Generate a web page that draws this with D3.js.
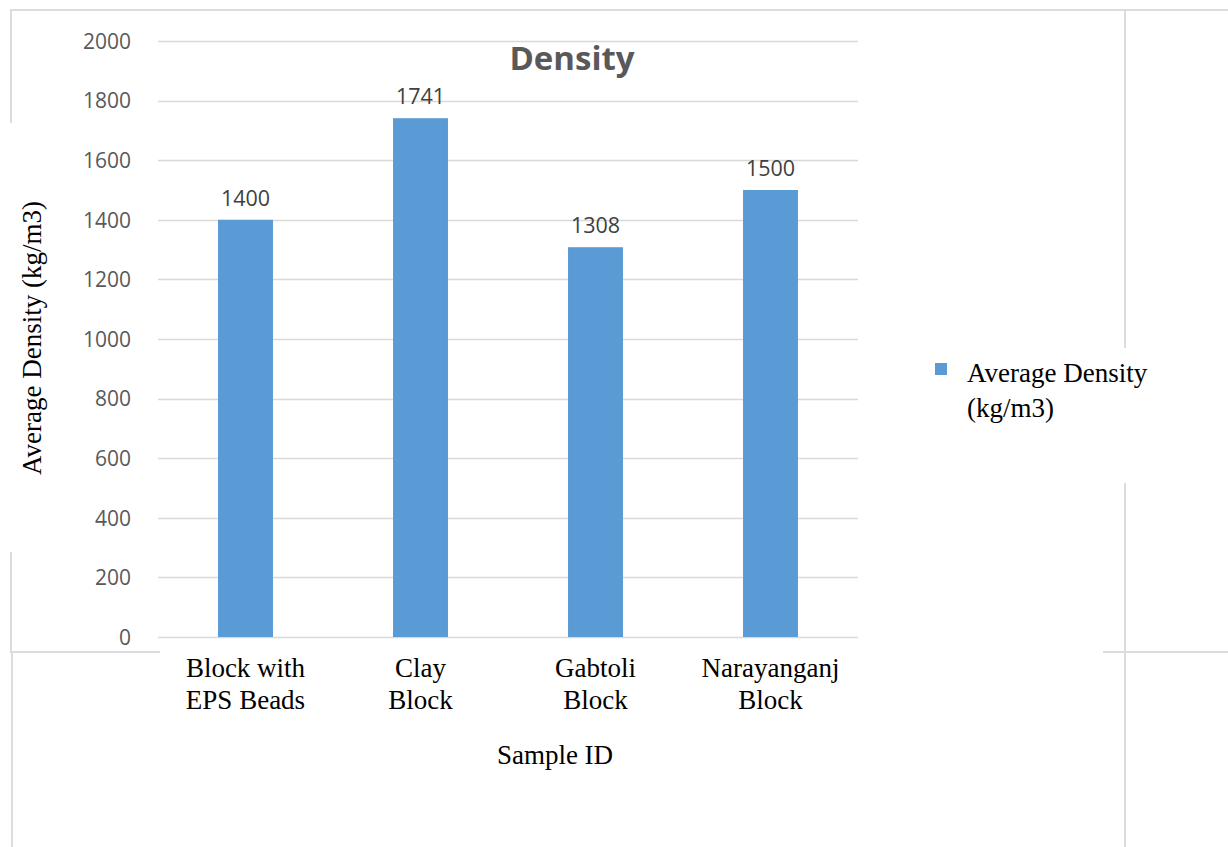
<!DOCTYPE html>
<html>
<head>
<meta charset="utf-8">
<script src="https://cdnjs.cloudflare.com/ajax/libs/d3/7.8.5/d3.min.js"></script>
<style>
  html, body { margin: 0; padding: 0; background: #fff; }
  svg { display: block; }
</style>
</head>
<body>
<svg id="chart" width="1228" height="847"></svg>
<script>
// ---- data ----
const categories = [["Block with", "EPS Beads"], ["Clay", "Block"], ["Gabtoli", "Block"], ["Narayanganj", "Block"]];
const values = [1400, 1741, 1308, 1500];
const yTicks = [0, 200, 400, 600, 800, 1000, 1200, 1400, 1600, 1800, 2000];
const seriesName = ["Average Density", "(kg/m3)"];
const chartTitle = "Density";
const xTitle = "Sample ID";
const yTitle = "Average Density (kg/m3)";

const svg = d3.select("#chart");
const W = 1228, H = 847;
const plot = { left: 158, right: 858, top: 41, bottom: 637 };

// frame lines (document box edges)
const frame = svg.append("g").attr("stroke", "#dcdcdc").attr("stroke-width", 2).attr("fill", "none");
frame.append("line").attr("x1", 10).attr("x2", W).attr("y1", 10).attr("y2", 10);
frame.append("line").attr("x1", 11).attr("x2", 11).attr("y1", 10).attr("y2", 123);
frame.append("line").attr("x1", 11).attr("x2", 11).attr("y1", 552).attr("y2", 652);
frame.append("line").attr("x1", 12).attr("x2", 12).attr("y1", 652).attr("y2", H);
frame.append("line").attr("x1", 10).attr("x2", 160).attr("y1", 652).attr("y2", 652);
frame.append("line").attr("x1", 1103).attr("x2", W).attr("y1", 652).attr("y2", 652);
frame.append("line").attr("x1", 1125).attr("x2", 1125).attr("y1", 10).attr("y2", 348);
frame.append("line").attr("x1", 1125).attr("x2", 1125).attr("y1", 483).attr("y2", H);

const x = d3.scaleBand().domain(d3.range(categories.length)).range([plot.left, plot.right]).paddingInner(0.686).paddingOuter(0.343);
const y = d3.scaleLinear().domain([0, 2000]).range([plot.bottom, plot.top]);

// gridlines
svg.append("g").selectAll("line").data(yTicks).join("line")
  .attr("x1", plot.left).attr("x2", plot.right)
  .attr("y1", d => Math.round(y(d)) + 0.5).attr("y2", d => Math.round(y(d)) + 0.5)
  .attr("stroke", "#d9d9d9").attr("stroke-width", 1.5);

// y axis labels
const yAxis = d3.axisLeft(y).tickValues(yTicks).tickFormat(d3.format("d")).tickSize(0).tickPadding(0);
const yg = svg.append("g").attr("transform", `translate(131,0)`).call(yAxis);
yg.select(".domain").remove();
yg.selectAll("text").attr("font-family", "'Open Sans', sans-serif").attr("font-size", 21).attr("fill", "#595959").attr("dy", "0.35em");

// bars
svg.append("g").selectAll("rect").data(values).join("rect")
  .attr("x", (d, i) => x(i)).attr("width", x.bandwidth())
  .attr("y", d => y(d)).attr("height", d => y(0) - y(d))
  .attr("fill", "#5b9bd5");

// value labels
svg.append("g").selectAll("text").data(values).join("text")
  .attr("x", (d, i) => x(i) + x.bandwidth() / 2)
  .attr("y", d => y(d) - 14)
  .attr("text-anchor", "middle")
  .attr("font-family", "'Open Sans', sans-serif").attr("font-size", 21.5).attr("fill", "#404040")
  .text(d => d);

// title
svg.append("text").attr("x", 572).attr("y", 70).attr("text-anchor", "middle")
  .attr("font-family", "'Open Sans', sans-serif").attr("font-weight", "bold").attr("font-size", 33).attr("fill", "#595959")
  .text(chartTitle);

// category labels
const serif = "'Liberation Serif', 'Times New Roman', serif";
const cat = svg.append("g").selectAll("text").data(categories).join("text")
  .attr("text-anchor", "middle").attr("font-family", serif).attr("font-size", 27).attr("fill", "#000");
cat.each(function(d, i) {
  const t = d3.select(this);
  d.forEach((line, j) => {
    t.append("tspan").attr("x", x(i) + x.bandwidth() / 2).attr("y", 677 + j * 32).text(line);
  });
});

// x title
svg.append("text").attr("x", 555).attr("y", 764).attr("text-anchor", "middle")
  .attr("font-family", serif).attr("font-size", 27).attr("fill", "#000").text(xTitle);

// y title
svg.append("text").attr("transform", "translate(41,338) rotate(-90)").attr("text-anchor", "middle")
  .attr("font-family", serif).attr("font-size", 27).attr("fill", "#000").text(yTitle);

// legend
svg.append("rect").attr("x", 935).attr("y", 363).attr("width", 12).attr("height", 12).attr("fill", "#5b9bd5");
const lg = svg.append("text").attr("font-family", serif).attr("font-size", 27).attr("fill", "#000");
seriesName.forEach((s, j) => lg.append("tspan").attr("x", 967).attr("y", 382 + j * 35).text(s));
</script>
</body>
</html>
